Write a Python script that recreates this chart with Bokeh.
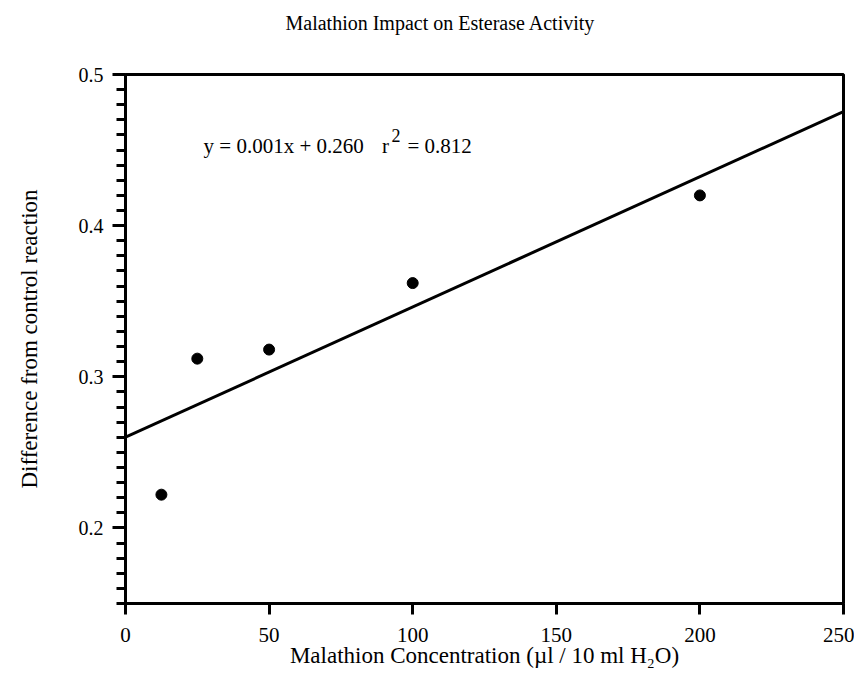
import numpy as np
from bokeh.plotting import figure
from bokeh.models import SingleIntervalTicker, Label, Range1d, ColumnDataSource, Title
from bokeh.embed import file_html
from bokeh.resources import INLINE

# Data
concentration = [12.5, 25, 50, 100, 200]
difference = [0.222, 0.312, 0.318, 0.362, 0.420]
fit_x = [0, 250]
title_text = "Malathion Impact on Esterase Activity"
equation_text = "y = 0.001x + 0.260"
r2_value_text = "= 0.812"

slope, intercept = np.polyfit(concentration, difference, 1)
fit_y = [slope * v + intercept for v in fit_x]

FONT = "Liberation Serif"

p = figure(
    frame_width=718, frame_height=529,
    min_border_left=125, min_border_right=11,
    min_border_top=74, min_border_bottom=70,
    x_range=Range1d(0, 250), y_range=Range1d(0.15, 0.5),
    output_backend="svg", toolbar_location=None,
    title=title_text,
)

p.title.text_font = FONT
p.title.text_font_size = "20px"
p.title.text_font_style = "normal"
p.title.text_color = "black"
p.title.align = "left"
p.title.offset = 160
p.title.standoff = 0

# spacer panel between the title and the frame, so the title sits higher
spacer = Title(text=" ", text_font_size="2px", standoff=37)
p.add_layout(spacer, "above")

p.xgrid.visible = False
p.ygrid.visible = False
p.outline_line_color = "black"
p.outline_line_width = 3
p.outline_line_alpha = 1.0

# Axes
p.xaxis.ticker = SingleIntervalTicker(interval=50, num_minor_ticks=0)
p.yaxis.ticker = SingleIntervalTicker(interval=0.1, num_minor_ticks=10)
for ax in (p.xaxis, p.yaxis):
    ax.axis_line_width = 3
    ax.axis_line_color = "black"
    ax.major_tick_line_width = 3
    ax.minor_tick_line_width = 3
    ax.major_tick_line_color = "black"
    ax.minor_tick_line_color = "black"
    ax.major_tick_in = 0
    ax.minor_tick_in = 0
    ax.major_label_text_font = FONT
    ax.major_label_text_color = "black"
    ax.axis_label_text_font = FONT
    ax.axis_label_text_font_size = "23px"
    ax.axis_label_text_font_style = "normal"
    ax.axis_label_text_color = "black"

p.xaxis.major_label_text_font_size = "21px"
p.xaxis.major_tick_out = 11
p.xaxis.minor_tick_out = 0
p.xaxis.major_label_standoff = 13
p.xaxis.axis_label = "Malathion Concentration (\u00b5l / 10 ml H\u2082O)"
p.xaxis.axis_label_standoff = -2

p.yaxis.major_label_text_font_size = "20px"
p.yaxis.major_tick_out = 13
p.yaxis.minor_tick_out = 9
p.yaxis.major_label_standoff = 9
p.yaxis.axis_label = "Difference from control reaction"
p.yaxis.axis_label_standoff = 34

# Regression line and points
p.line(fit_x, fit_y, line_color="black", line_width=3)
src = ColumnDataSource(dict(x=concentration, y=difference))
p.scatter("x", "y", source=src, marker="circle", size=11,
          fill_color="black", line_color="black")

# Equation annotation
p.add_layout(Label(x=27.2, y=0.453, text=equation_text, text_font=FONT,
                   text_font_size="21px", text_baseline="middle",
                   text_color="black"))
p.add_layout(Label(x=89.3, y=0.453, text="r", text_font=FONT,
                   text_font_size="21px", text_baseline="middle",
                   text_color="black"))
p.add_layout(Label(x=92.6, y=0.4595, text="2", text_font=FONT,
                   text_font_size="18px", text_baseline="middle",
                   text_color="black"))
p.add_layout(Label(x=98.2, y=0.453, text=r2_value_text, text_font=FONT,
                   text_font_size="21px", text_baseline="middle",
                   text_color="black"))

open("out.html", "w").write(file_html(p, INLINE))
